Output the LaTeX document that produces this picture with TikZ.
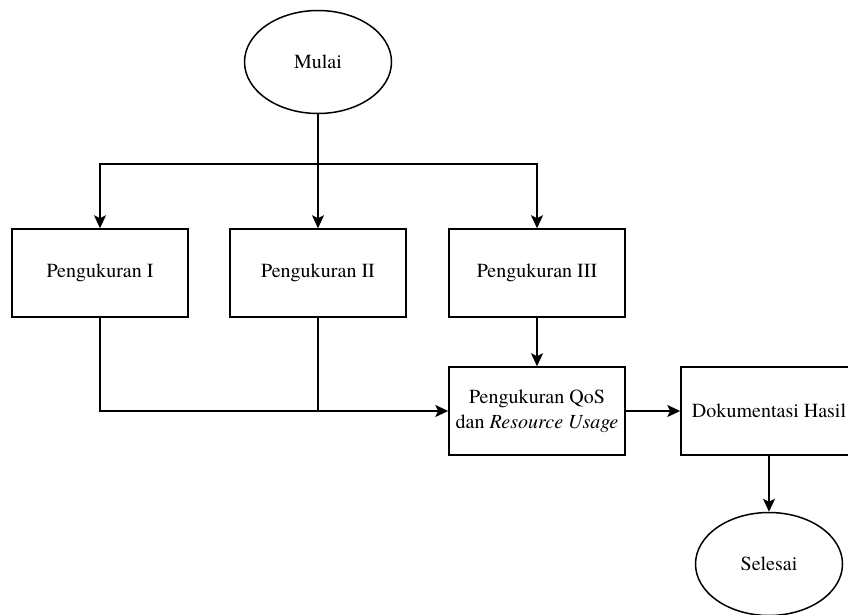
\documentclass[tikz,border=0pt]{standalone}
\usepackage{fontspec}
\setmainfont{texgyretermes}[Extension=.otf, UprightFont=*-regular, ItalicFont=*-italic,
	BoldFont=*-bold, BoldItalicFont=*-bolditalic]
\usepackage{tikz}
\usetikzlibrary{shapes.geometric,arrows.meta}
\tikzset{
	proses/.style   = {draw, line width=1.5pt, rectangle, minimum height = 88pt,
		minimum width = 176pt, align=center, inner sep=2pt},
	terminal/.style = {draw, line width=1.5pt, ellipse, minimum height = 103pt,
		minimum width = 147pt},
	garis/.style    = {line width=1.6pt},
	panah/.style    = {line width=1.6pt, -{Stealth[length=13pt,width=12pt,inset=3pt]}}
}
\newcommand{\teks}{\rmfamily\fontsize{20}{25}\selectfont}

\begin{document}
\begin{tikzpicture}[x=1pt, y=-1pt, font=\teks]
	\useasboundingbox (0,0) rectangle (848,615);

	\draw
	node at (318,62) [terminal] (mulai) {Mulai}
	node at (100,273) [proses] (uk1) {Pengukuran I}
	node at (318,273) [proses] (uk2) {Pengukuran II}
	node at (537,273) [proses] (uk3) {Pengukuran III}
	node at (537,411) [proses] (qos) {Pengukuran QoS\\dan \textit{Resource Usage}}
	node at (769,411) [proses] (dok) {Dokumentasi Hasil}
	node at (769,564) [terminal] (selesai) {Selesai};

	\coordinate (cabang) at (318,164);
	\coordinate (gabung) at (uk2 |- qos);

	\draw[panah](mulai) -- (uk2);
	\draw[panah](cabang) -| (uk1);
	\draw[panah](cabang) -| (uk3);
	\draw[panah](uk1) |- (qos);
	\draw[garis](uk2) -- (gabung);
	\draw[panah](uk3) -- (qos);
	\draw[panah](qos) -- (dok);
	\draw[panah](dok) -- (selesai);

\end{tikzpicture}
\end{document}
